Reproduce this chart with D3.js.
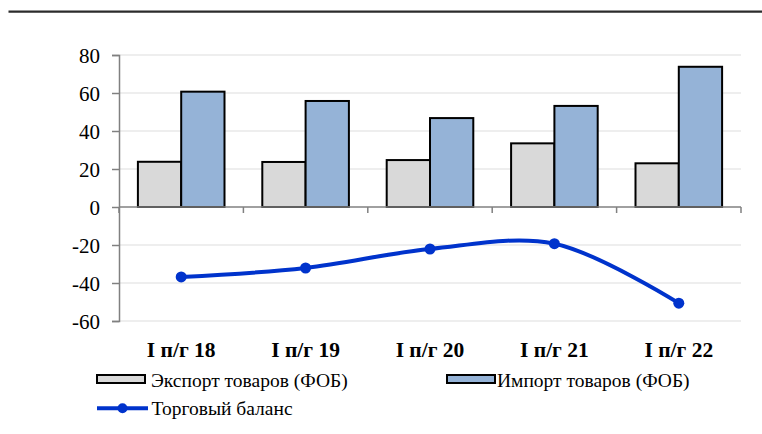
<!DOCTYPE html>
<html>
<head>
<meta charset="utf-8">
<script src="https://cdn.jsdelivr.net/npm/d3@7"></script>
<style>
  body { margin: 0; background: #fff; }
  svg text { font-family: "Liberation Serif", "Times New Roman", serif; }
</style>
</head>
<body>
<div id="chart"></div>
<script>
const categories = ['I п/г 18', 'I п/г 19', 'I п/г 20', 'I п/г 21', 'I п/г 22'];
const exportVals = [23.8, 23.7, 24.7, 33.5, 23.0];
const importVals = [60.7, 55.8, 46.8, 53.2, 73.8];
const balanceVals = [-36.8, -32.1, -22.1, -19.3, -50.6];
const yTicks = [80, 60, 40, 20, 0, -20, -40, -60];

const width = 762, height = 434;
const margin = { left: 119, right: 21, top: 55, bottom: 113 };
const serif = '"Liberation Serif", "Times New Roman", serif';

const svg = d3.select('#chart')
  .append('svg')
  .attr('width', width)
  .attr('height', height)
  .attr('font-family', serif);

// thick rule at the top
svg.append('line')
  .attr('x1', 8.5).attr('x2', width)
  .attr('y1', 11.7).attr('y2', 11.7)
  .attr('stroke', '#2b2b2b')
  .attr('stroke-width', 2.2);

const x = d3.scaleBand()
  .domain(categories)
  .range([margin.left, width - margin.right]);

const y = d3.scaleLinear()
  .domain([-60, 80])
  .range([height - margin.bottom, margin.top]);

// gridlines
svg.append('g')
  .selectAll('line')
  .data(yTicks.filter(d => d !== 0))
  .enter().append('line')
  .attr('x1', margin.left).attr('x2', width - margin.right)
  .attr('y1', d => y(d)).attr('y2', d => y(d))
  .attr('stroke', '#e8e8e8')
  .attr('stroke-width', 1.5);

// y axis
const yAxis = svg.append('g')
  .attr('transform', `translate(${margin.left},0)`)
  .call(d3.axisLeft(y).tickValues(yTicks).tickSize(7).tickPadding(6).tickFormat(d => String(d)));
yAxis.attr('font-family', serif);
yAxis.select('.domain').attr('stroke', '#808080').attr('stroke-width', 1.5);
yAxis.selectAll('.tick line').attr('stroke', '#808080').attr('stroke-width', 1.5);
yAxis.selectAll('text')
  .attr('font-family', serif)
  .attr('font-size', 21)
  .attr('fill', '#000')
  .attr('dy', '0.34em')
  .attr('x', -19);

// bars
const half = 43.3;
const groups = svg.append('g')
  .selectAll('g')
  .data(categories)
  .enter().append('g');

groups.append('rect')
  .attr('x', d => x(d) + x.bandwidth() / 2 - half)
  .attr('y', (d, i) => y(exportVals[i]))
  .attr('width', half)
  .attr('height', (d, i) => y(0) - y(exportVals[i]))
  .attr('fill', '#d9d9d9')
  .attr('stroke', '#000')
  .attr('stroke-width', 2);

groups.append('rect')
  .attr('x', d => x(d) + x.bandwidth() / 2)
  .attr('y', (d, i) => y(importVals[i]))
  .attr('width', half)
  .attr('height', (d, i) => y(0) - y(importVals[i]))
  .attr('fill', '#95b3d7')
  .attr('stroke', '#000')
  .attr('stroke-width', 2);

// x axis at zero with tick marks at category boundaries
const bounds = categories.map(c => x(c)).concat([width - margin.right]);
svg.append('line')
  .attr('x1', margin.left).attr('x2', width - margin.right)
  .attr('y1', y(0)).attr('y2', y(0))
  .attr('stroke', '#808080').attr('stroke-width', 1.5);
svg.append('g')
  .selectAll('line')
  .data(bounds)
  .enter().append('line')
  .attr('x1', d => d).attr('x2', d => d)
  .attr('y1', y(0)).attr('y2', y(0) + 6)
  .attr('stroke', '#808080').attr('stroke-width', 1.5);

// category labels
svg.append('g')
  .selectAll('text')
  .data(categories)
  .enter().append('text')
  .attr('x', d => x(d) + x.bandwidth() / 2)
  .attr('y', 356.5)
  .attr('text-anchor', 'middle')
  .attr('font-family', serif)
  .attr('font-size', 21.5)
  .attr('font-weight', 'bold')
  .text(d => d);

// balance line
const pts = categories.map((c, i) => [x(c) + x.bandwidth() / 2, y(balanceVals[i])]);
svg.append('path')
  .datum(pts)
  .attr('d', d3.line().curve(d3.curveCatmullRom.alpha(0.5)))
  .attr('fill', 'none')
  .attr('stroke', '#0033cc')
  .attr('stroke-width', 4);

svg.append('g')
  .selectAll('circle')
  .data(pts)
  .enter().append('circle')
  .attr('cx', d => d[0]).attr('cy', d => d[1])
  .attr('r', 5.5)
  .attr('fill', '#0033cc');

// legend
const legend = svg.append('g').attr('font-size', 19.5).attr('font-family', serif);

legend.append('rect')
  .attr('x', 97).attr('y', 375).attr('width', 48).attr('height', 8)
  .attr('fill', '#d9d9d9').attr('stroke', '#000').attr('stroke-width', 2);
legend.append('text').attr('x', 151).attr('y', 387).text('Экспорт товаров (ФОБ)');

legend.append('rect')
  .attr('x', 447).attr('y', 375).attr('width', 48).attr('height', 8)
  .attr('fill', '#95b3d7').attr('stroke', '#000').attr('stroke-width', 2);
legend.append('text').attr('x', 497).attr('y', 387).text('Импорт товаров (ФОБ)');

legend.append('line')
  .attr('x1', 97).attr('x2', 148).attr('y1', 408.3).attr('y2', 408.3)
  .attr('stroke', '#0033cc').attr('stroke-width', 4);
legend.append('circle')
  .attr('cx', 122.5).attr('cy', 408.3).attr('r', 5).attr('fill', '#0033cc');
legend.append('text').attr('x', 151.5).attr('y', 415).text('Торговый баланс');
</script>
</body>
</html>
